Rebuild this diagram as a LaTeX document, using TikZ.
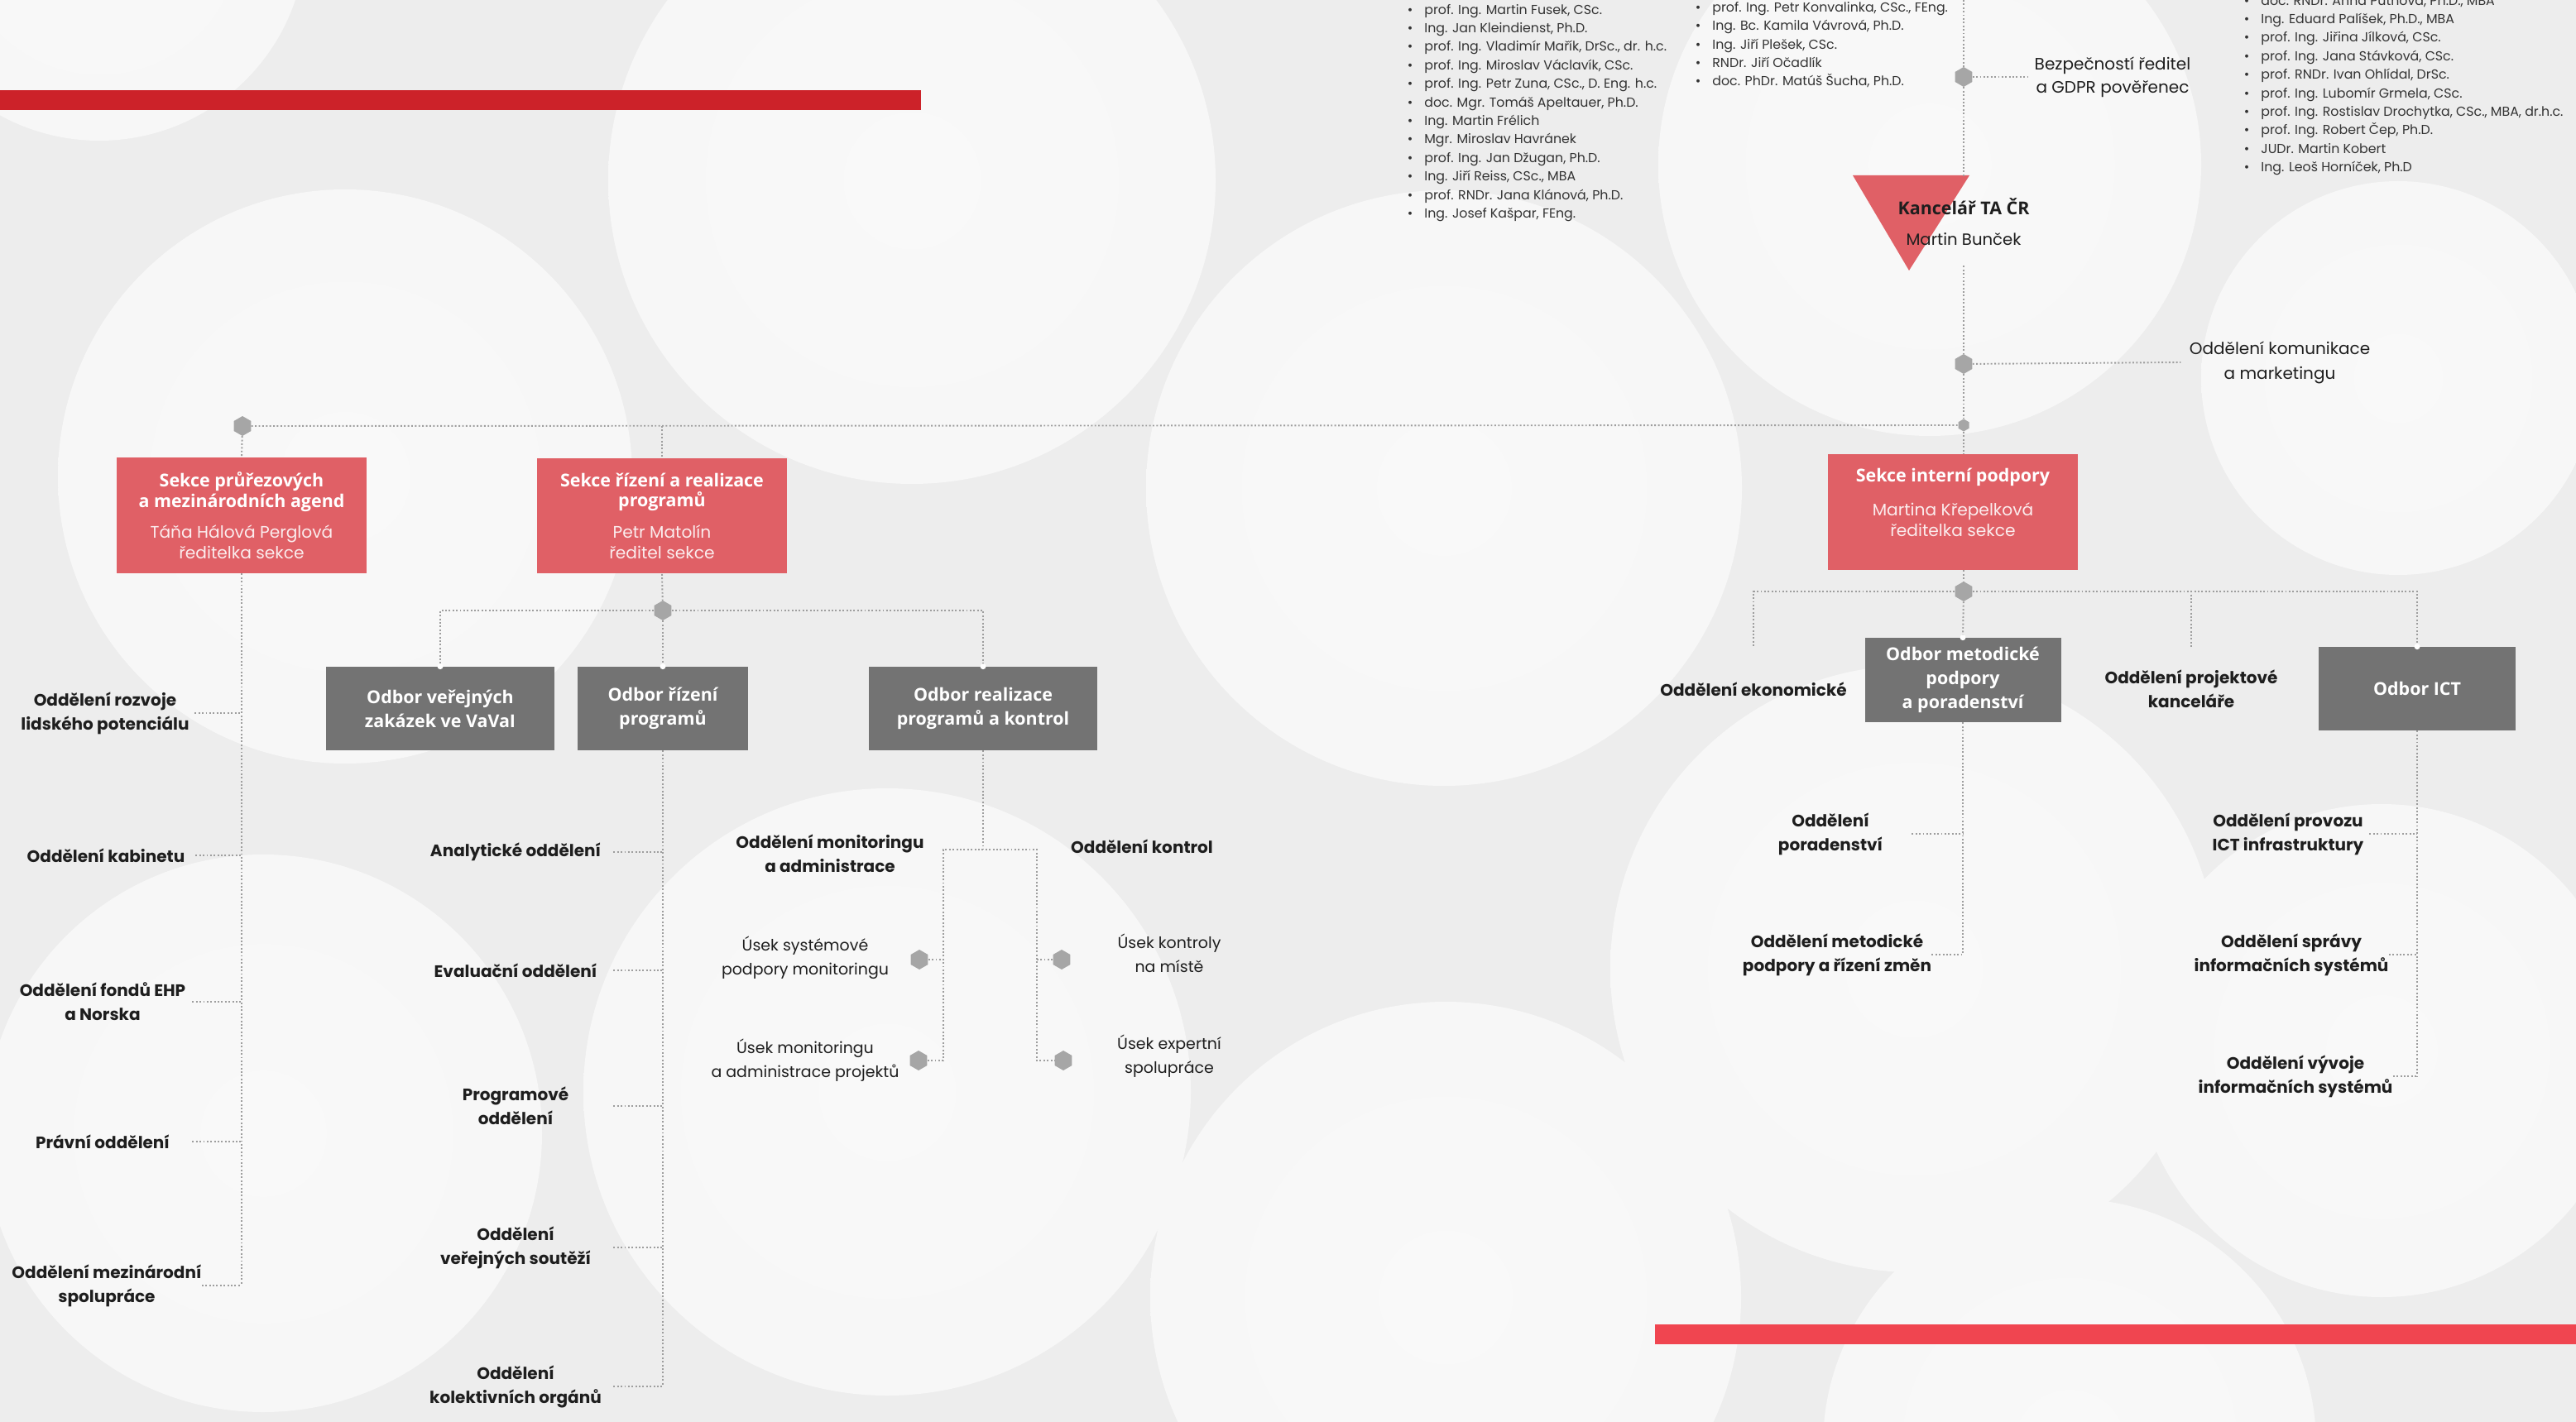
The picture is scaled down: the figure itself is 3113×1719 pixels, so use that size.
\documentclass[tikz,border=0pt]{standalone}
\usepackage{fontspec}
\setmainfont{Poppins}
\newfontfamily\boxfont{Open Sans}
\usetikzlibrary{shapes.geometric}
\definecolor{bgcol}{HTML}{EDEDED}
\definecolor{bubin}{HTML}{F9F9F9}
\definecolor{bubmid}{HTML}{F6F6F6}
\definecolor{redbox}{HTML}{E06066}
\definecolor{greybox}{HTML}{737373}
\definecolor{hexcol}{HTML}{A6A6A6}
\definecolor{conncol}{HTML}{9E9E9E}
\definecolor{barA}{HTML}{CC2229}
\definecolor{barB}{HTML}{F04550}
\definecolor{labcol}{HTML}{1E1E1E}
\definecolor{listcol}{HTML}{333333}
\pgfdeclareradialshading{bubble}{\pgfpointorigin}{color(0bp)=(bubin); color(34bp)=(bubmid); color(46bp)=(bubmid!50!bgcol); color(50bp)=(bgcol)}
\tikzset{
  conn/.style={draw=conncol, line width=1.1pt, dash pattern=on 1.1pt off 1.4pt},
  hexnode/.style={regular polygon, regular polygon sides=6, shape border rotate=30, fill=hexcol, minimum size=0.48cm, inner sep=0pt},
  hexsmall/.style={hexnode, minimum size=0.3cm},
  redsekce/.style={fill=redbox, text=white, minimum width=6.04cm, minimum height=2.8cm, align=center, inner sep=0pt, font=\boxfont\bfseries\fontsize{12.2}{14.2}\selectfont},
  greyodbor/.style={fill=greybox, text=white, minimum height=2.02cm, align=center, inner sep=0pt, font=\boxfont\bfseries\fontsize{12.2}{16.5}\selectfont},
  oddel/.style={text=labcol, align=center, inner sep=0pt, font=\bfseries\fontsize{11.4}{16.5}\selectfont},
  usek/.style={text=labcol, align=center, inner sep=0pt, font=\fontsize{10.8}{16.5}\selectfont},
  kanc/.style={text=labcol, align=center, inner sep=0pt, minimum height=2.12cm, font=\fontsize{11.2}{21}\selectfont},
  clen/.style={text=listcol, anchor=west, inner sep=0pt, text height=.75em, text depth=.25em, font=\fontsize{9}{11}\selectfont},
}
\newcommand\jmeno[1]{{\rmfamily\mdseries\fontsize{11.5}{13.7}\selectfont\color{white!88!redbox}#1}}

\begin{document}
\begin{tikzpicture}[x=0.02cm,y=-0.02cm]
        \useasboundingbox (0,0) rectangle (3113,1719);
        % pozadi
        \fill[bgcol] (0,0) rectangle (3113,1719);
        \foreach \bx/\by/\br in {120/-80/250, 417/576/347, 1102/218/367, 1745/590/360, 2332/199/328, 2898/457/238, 318/1370/337, 1072/1320/367, 1747/1568/357, 2313/1171/367, 2878/1270/298, 2501/1747/298}
            \shade[shading=bubble] (\bx,\by) circle[radius=\br*0.02cm];
        \fill[barA] (0,109) rectangle (1113,133);
        \fill[barB] (2000,1601) rectangle (3113,1625);

        % predsednictvo a rady
        \foreach \nm [count=\i] in {{prof. Ing. Martin Fusek, CSc.},{Ing. Jan Kleindienst, Ph.D.},{prof. Ing. Vladimír Mařík, DrSc., dr. h.c.},{prof. Ing. Miroslav Václavík, CSc.},{prof. Ing. Petr Zuna, CSc., D. Eng. h.c.},{doc. Mgr. Tomáš Apeltauer, Ph.D.},{Ing. Martin Frélich},{Mgr. Miroslav Havránek},{prof. Ing. Jan Džugan, Ph.D.},{Ing. Jiří Reiss, CSc., MBA},{prof. RNDr. Jana Klánová, Ph.D.},{Ing. Josef Kašpar, FEng.}}
            \node[clen] (clenA\i) at (1721,{12.7+22.4*(\i-1)}) {\llap{\textbullet\hspace{8pt}}\nm};
        \foreach \nm [count=\i] in {{prof. Ing. Petr Konvalinka, CSc., FEng.},{Ing. Bc. Kamila Vávrová, Ph.D.},{Ing. Jiří Plešek, CSc.},{RNDr. Jiří Očadlík},{doc. PhDr. Matúš Šucha, Ph.D.}}
            \node[clen] (clenB\i) at (2069,{10+22.4*(\i-1)}) {\llap{\textbullet\hspace{8pt}}\nm};
        \foreach \nm [count=\i] in {{doc. RNDr. Anna Putnová, Ph.D., MBA},{Ing. Eduard Palíšek, Ph.D., MBA},{prof. Ing. Jiřina Jílková, CSc.},{prof. Ing. Jana Stávková, CSc.},{prof. RNDr. Ivan Ohlídal, DrSc.},{prof. Ing. Lubomír Grmela, CSc.},{prof. Ing. Rostislav Drochytka, CSc., MBA, dr.h.c.},{prof. Ing. Robert Čep, Ph.D.},{JUDr. Martin Kobert},{Ing. Leoš Horníček, Ph.D}}
            \node[clen] (clenC\i) at (2732,{1.7+22.4*(\i-1)}) {\llap{\textbullet\hspace{8pt}}\nm};

        % kancelar
        \fill[redbox] (2239,212) -- (2380,212) -- (2307,327) -- cycle;
        \node[kanc] (kancl) at (2373,268) {{\boxfont\bfseries\fontsize{12.2}{21}\selectfont Kancelář TA ČR}\\Martin Bunček};
        \coordinate (topC) at (2373,0);
        \node[hexnode] (hexB) at (2373,93){};
        \node[hexnode] (hexK) at (2373,440){};
        \node[hexsmall] (hexC) at (2373,514){};
        \node[hexnode] (hexL) at (293,515){};
        \node[usek, inner xsep=0.16cm, font=\fontsize{11.4}{16}\selectfont] (bezp) at (2553,93){Bezpečností ředitel\\a GDPR pověřenec};
        \node[usek, inner xsep=0.2cm, font=\fontsize{11.4}{17}\selectfont] (komun) at (2755,438){Oddělení komunikace\\a marketingu};

        % sekce
        \node[redsekce] (sekceP) at (292,623){Sekce průřezových\\a mezinárodních agend\\[7pt]\jmeno{Táňa Hálová Perglová}\\\jmeno{ředitelka sekce}};
        \node[redsekce] (sekceR) at (800,623.5){Sekce řízení a realizace\\programů\\[7pt]\jmeno{Petr Matolín}\\\jmeno{ředitel sekce}};
        \node[redsekce] (sekceI) at (2360,619){Sekce interní podpory\\[9pt]\jmeno{Martina Křepelková}\\\jmeno{ředitelka sekce}\\[-1pt]\mbox{}};

        % odbory
        \node[hexnode] (hexR) at (801,738){};
        \node[greyodbor, minimum width=5.52cm] (odbVZ) at (532,856.5){Odbor veřejných\\zakázek ve VaVaI};
        \node[greyodbor, minimum width=4.14cm] (odbRi) at (801,856.5){Odbor řízení\\programů};
        \node[greyodbor, minimum width=5.52cm] (odbRe) at (1188,856.5){Odbor realizace\\programů a kontrol};
        \node[hexnode] (hexS) at (2373,715){};
        \node[greyodbor, minimum width=4.74cm, minimum height=2.04cm] (odbMet) at (2372,822){Odbor metodické\\podpory\\a poradenství};
        \node[greyodbor, minimum width=4.76cm] (odbICT) at (2921,832.5){Odbor ICT};

        % oddeleni vlevo
        \node[oddel, minimum width=4.32cm] (rozvoj) at (127,862){Oddělení rozvoje\\lidského potenciálu};
        \node[oddel, minimum width=4.32cm] (kabinet) at (128,1034){Oddělení kabinetu};
        \node[oddel, minimum width=4.32cm] (fondy) at (124,1211){Oddělení fondů EHP\\a Norska};
        \node[oddel, minimum width=4.32cm] (pravni) at (124,1380){Právní oddělení};
        \node[oddel, minimum width=4.32cm] (mezin) at (129,1554){Oddělení mezinárodní\\spolupráce};
        \node[oddel, minimum width=4.72cm] (analyt) at (623,1030){Analytické oddělení};
        \node[oddel, minimum width=4.72cm] (evaluac) at (623,1173){Evaluační oddělení};
        \node[oddel, minimum width=4.72cm] (program) at (623,1337){Programové\\oddělení};
        \node[oddel, minimum width=4.72cm] (soutez) at (623,1508){Oddělení\\veřejných soutěží};
        \node[oddel, minimum width=4.72cm] (kolekt) at (623,1676){Oddělení\\kolektivních orgánů};

        % realizace
        \node[oddel] (monit) at (1003,1032){Oddělení monitoringu\\a administrace};
        \node[oddel] (kontrol) at (1380,1023){Oddělení kontrol};
        \node[usek] (usekSys) at (973,1158){Úsek systémové\\podpory monitoringu};
        \node[usek] (usekMon) at (973,1282){Úsek monitoringu\\a administrace projektů};
        \node[usek] (usekKon) at (1413,1152){Úsek kontroly\\na místě};
        \node[usek] (usekExp) at (1413,1277){Úsek expertní\\spolupráce};
        \node[hexnode] (hexU1) at (1111,1160){};
        \node[hexnode] (hexU2) at (1110,1282){};
        \node[hexnode] (hexU3) at (1283,1160){};
        \node[hexnode] (hexU4) at (1285,1282){};
        \coordinate (cL) at (1140,1027);
        \coordinate (cR) at (1253,1027);

        % interni podpora
        \node[oddel] (ekon) at (2119,833){Oddělení ekonomické};
        \node[oddel] (projK) at (2648,833){Oddělení projektové\\kanceláře};
        \node[oddel, minimum width=3.92cm] (porad) at (2212,1008){Oddělení\\poradenství};
        \node[oddel, minimum width=3.92cm] (metZm) at (2220,1154){Oddělení metodické\\podpory a řízení změn};
        \node[oddel, minimum width=3.92cm] (provoz) at (2765,1008){Oddělení provozu\\ICT infrastruktury};
        \node[oddel, minimum width=3.92cm] (sprava) at (2769,1154){Oddělení správy\\informačních systémů};
        \node[oddel, minimum width=3.92cm] (vyvoj) at (2774,1301){Oddělení vývoje\\informačních systémů};

        % spojnice
        \draw[conn] (topC) -- (hexB);
        \draw[conn] (hexB) -- (bezp.west);
        \draw[conn] (hexB) -- (kancl.north);
        \draw[conn] (kancl.south) -- (hexK);
        \draw[conn] (hexK) -- (komun.west);
        \draw[conn] (hexK) -- (hexC);
        \draw[conn] (hexC) -- (hexC |- sekceI.north);
        \draw[conn] (hexL) -- (hexC);
        \draw[conn] (hexL) -- (sekceP.north);
        \draw[conn] (sekceR.north |- hexL) -- (sekceR.north);
        \draw[conn] (sekceP.south) -- (sekceP.south |- mezin.east);
        \foreach \n in {rozvoj,kabinet,fondy,pravni,mezin}
            \draw[conn] (\n.east) -- (\n.east -| sekceP.south);
        \draw[conn] (sekceR.south) -- (hexR);
        \draw[conn] (hexR) -| (odbVZ.north);
        \draw[conn] (hexR) -- (odbRi.north);
        \draw[conn] (hexR) -| (odbRe.north);
        \draw[conn] (odbRi.south) -- (odbRi.south |- kolekt.east);
        \foreach \n in {analyt,evaluac,program,soutez,kolekt}
            \draw[conn] (\n.east) -- (\n.east -| odbRi.south);
        \draw[conn] (odbRe.south) -- (odbRe.south |- cL);
        \draw[conn] (hexU2) -| (cL) -- (cR) |- (hexU4);
        \draw[conn] (hexU1) -- (hexU1 -| cL);
        \draw[conn] (hexU3) -- (hexU3 -| cR);
        \draw[conn] (hexC |- sekceI.south) -- (hexS);
        \draw[conn, shorten >=0.82cm] (hexS) -| (ekon);
        \draw[conn] (hexS) -- (odbMet.north);
        \draw[conn, shorten >=0.56cm] (hexS) -| (projK);
        \draw[conn] (hexS) -| (odbICT.north);
        \draw[conn] (odbMet.south) -- (odbMet.south |- metZm.east);
        \foreach \n in {porad,metZm}
            \draw[conn] (\n.east) -- (\n.east -| odbMet.south);
        \draw[conn] (odbICT.south) -- (odbICT.south |- vyvoj.east);
        \foreach \n in {provoz,sprava,vyvoj}
            \draw[conn] (\n.east) -- (\n.east -| odbICT.south);
        \foreach \n in {odbVZ,odbRi,odbRe,odbMet,odbICT}
            \fill[white] (\n.north) circle[radius=0.07cm];
    \end{tikzpicture}
\end{document}
